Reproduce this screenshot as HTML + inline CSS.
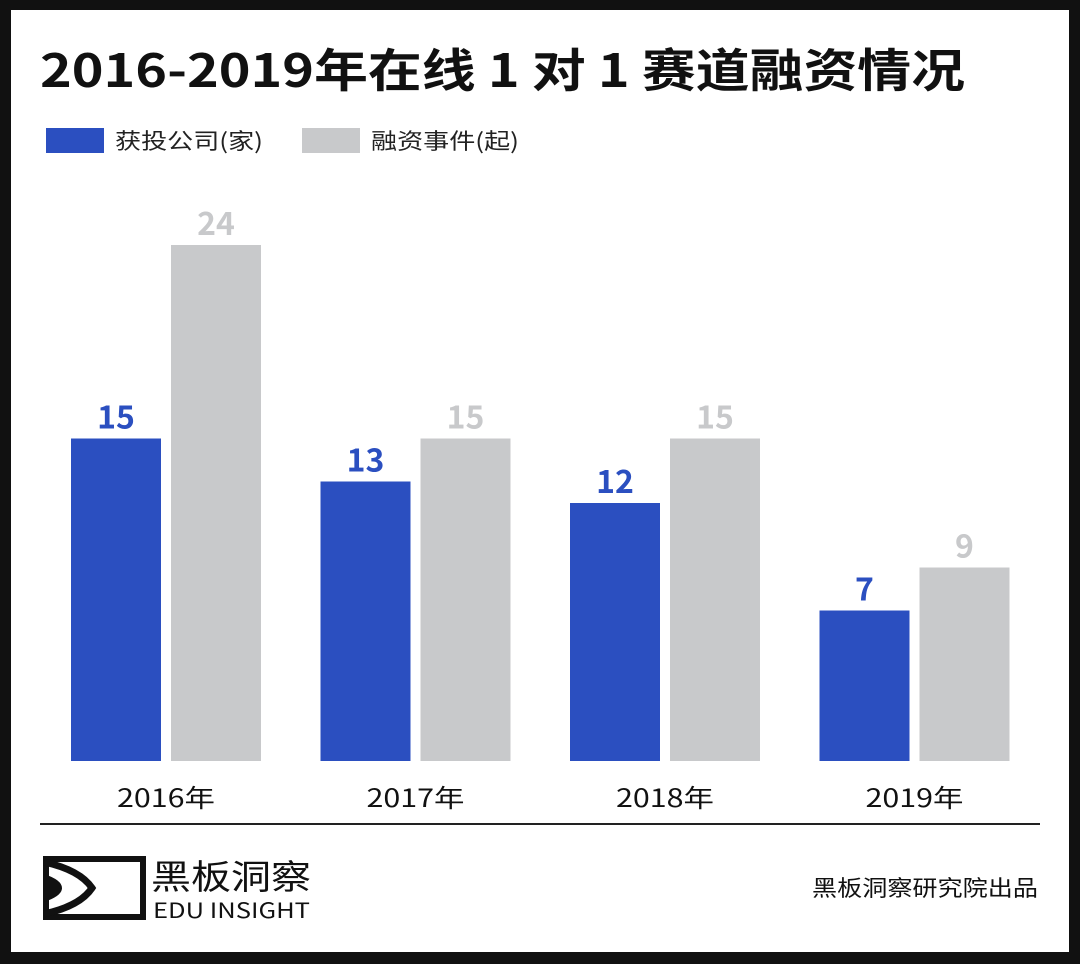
<!DOCTYPE html>
<html><head><meta charset="utf-8"><style>
body{margin:0;background:#111;}
#frame{position:absolute;left:11px;top:10px;width:1058px;height:942px;background:#fff;}
text{font-family:"Noto Sans CJK SC","Liberation Sans",sans-serif;}
</style></head><body>
<div id="frame"></div>
<svg width="1080" height="964" style="position:absolute;left:0;top:0">
<text x="40" y="87" font-size="46" font-weight="bold" fill="#111" textLength="925" lengthAdjust="spacingAndGlyphs">2016-2019年在线 1 对 1 赛道融资情况</text>
<g>
<rect x="46" y="128" width="58" height="25" fill="#2b4fc0"/>
<text x="115" y="149" font-size="22" fill="#222" textLength="148" lengthAdjust="spacingAndGlyphs">获投公司(家)</text>
<rect x="302" y="128" width="58" height="25" fill="#c8c9cb"/>
<text x="371" y="149" font-size="22" fill="#222" textLength="148" lengthAdjust="spacingAndGlyphs">融资事件(起)</text>
</g>
<g id="bars"></g>
<line x1="40" y1="824" x2="1040" y2="824" stroke="#222" stroke-width="2"/>
<g>
<rect x="46" y="859" width="97" height="58" fill="none" stroke="#111" stroke-width="6"/>
<path d="M44 862 Q80 870 92 888 Q80 906 44 914" fill="none" stroke="#111" stroke-width="7"/>
<path d="M44 874 Q62 880 62 888 Q62 896 44 902" fill="#111"/>
<text x="151" y="889" font-size="34" fill="#111" textLength="160" lengthAdjust="spacingAndGlyphs">黑板洞察</text>
<text x="153" y="918" font-size="21" fill="#111" textLength="157" lengthAdjust="spacingAndGlyphs">EDU INSIGHT</text>
</g>
<text x="812" y="896" font-size="22" fill="#111" textLength="226" lengthAdjust="spacingAndGlyphs">黑板洞察研究院出品</text>
</svg>
<script>
const categories=["2016年","2017年","2018年","2019年"];
const companies=[15,13,12,7];
const events=[24,15,15,9];
const base=761, unit=21.5, bw=90;
function y(v){return base-v*unit;}
function gx(i){return 71+i*249.5;}
const g=document.getElementById('bars');
const NS="http://www.w3.org/2000/svg";
function mk(t,a){const e=document.createElementNS(NS,t);for(const k in a)e.setAttribute(k,a[k]);g.appendChild(e);return e;}
categories.forEach((c,i)=>{
  [[companies,0,'#2b4fc0','#2b4fc0','companies'],[events,100,'#c8c9cb','#c8c9cb','events']].forEach(([arr,off,fill,tc,nm])=>{
    const x=gx(i)+off,v=arr[i];
    const r=mk('rect',{x:x,y:y(v),width:bw,height:v*unit,fill:fill});
    
    
    const t=mk('text',{x:x+bw/2,y:y(v)-10,'font-size':32,'font-weight':'bold','text-anchor':'middle',fill:tc});
    t.textContent=v;
    
    
  });
  const l=mk('text',{x:gx(i)+46,y:807,'font-size':25,fill:'#111',textLength:98,lengthAdjust:'spacingAndGlyphs'});
  l.textContent=c;
  
  
});
</script>
</body></html>
